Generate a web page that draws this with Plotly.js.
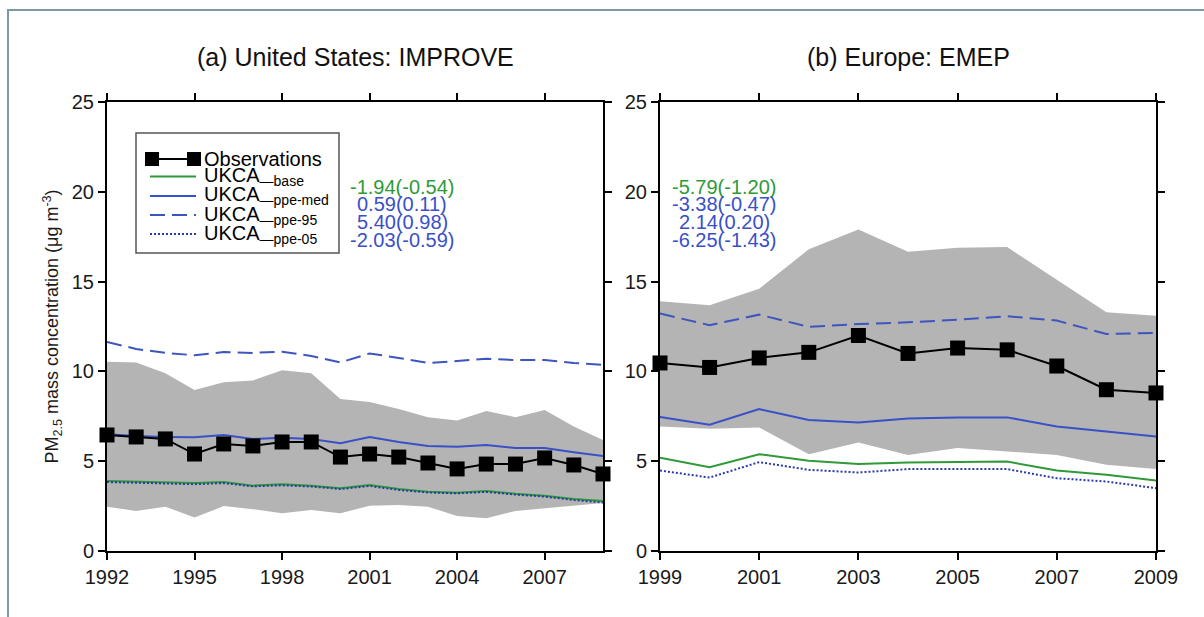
<!DOCTYPE html>
<html>
<head>
<meta charset="utf-8">
<script src="https://cdn.plot.ly/plotly-3.0.1.min.js"></script>
<style>
html,body{margin:0;padding:0;background:#fff;}
#wrap{position:relative;width:1204px;height:617px;overflow:hidden;}
#chart{position:absolute;left:0;top:0;width:1204px;height:617px;}
#frame{position:absolute;left:7px;top:9px;width:1300px;height:700px;border-top:2px solid #7d98a7;border-left:2px solid #7d98a7;pointer-events:none;}
</style>
</head>
<body>
<div id="wrap"><div id="chart"></div><div id="frame"></div></div>
<script>
// ---- United States: IMPROVE ----
var yearsUS = [1992,1993,1994,1995,1996,1997,1998,1999,2000,2001,2002,2003,2004,2005,2006,2007,2008,2009];
var obsUS    = [6.46,6.35,6.24,5.40,5.96,5.85,6.07,6.07,5.23,5.40,5.23,4.90,4.57,4.84,4.84,5.18,4.79,4.29];
var medUS    = [6.50,6.40,6.35,6.33,6.46,6.24,6.30,6.24,6.00,6.35,6.07,5.85,5.80,5.90,5.73,5.73,5.50,5.29];
var p95US    = [11.64,11.25,11.03,10.90,11.08,11.03,11.10,10.86,10.50,11.00,10.75,10.47,10.58,10.70,10.63,10.63,10.47,10.36];
var baseUS   = [3.90,3.86,3.84,3.78,3.84,3.64,3.71,3.64,3.50,3.67,3.45,3.30,3.25,3.34,3.19,3.08,2.90,2.78];
var p05US    = [3.84,3.80,3.78,3.72,3.78,3.60,3.66,3.59,3.45,3.62,3.40,3.26,3.21,3.29,3.14,3.03,2.84,2.70];
var bandHiUS = [10.54,10.50,9.90,8.96,9.40,9.50,10.07,9.90,8.46,8.30,7.90,7.45,7.26,7.80,7.45,7.85,6.93,6.18];
var bandLoUS = [2.47,2.23,2.47,1.86,2.50,2.33,2.10,2.28,2.10,2.52,2.56,2.47,1.95,1.83,2.23,2.38,2.56,2.67];

// ---- Europe: EMEP ----
var yearsEU = [1999,2000,2001,2002,2003,2004,2005,2006,2007,2008,2009];
var obsEU    = [10.47,10.22,10.75,11.06,12.00,11.00,11.30,11.20,10.30,8.98,8.80];
var medEU    = [7.46,7.03,7.90,7.30,7.16,7.38,7.44,7.44,6.93,6.65,6.37];
var p95EU    = [13.22,12.57,13.16,12.48,12.64,12.73,12.88,13.07,12.83,12.08,12.14];
var baseEU   = [5.20,4.67,5.39,5.02,4.85,4.93,4.96,4.98,4.48,4.24,3.92];
var p05EU    = [4.48,4.09,4.95,4.52,4.37,4.56,4.56,4.56,4.05,3.87,3.50];
var bandHiEU = [13.90,13.68,14.60,16.80,17.90,16.66,16.88,16.92,15.10,13.30,13.10];
var bandLoEU = [6.93,6.80,6.88,5.39,6.04,5.35,5.73,5.54,5.35,4.80,4.57];

// ---- text ----
var panelTitles = ["(a) United States: IMPROVE", "(b) Europe: EMEP"];
var statsUS = ["-1.94(-0.54)","0.59(0.11)","5.40(0.98)","-2.03(-0.59)"];
var statsEU = ["-5.79(-1.20)","-3.38(-0.47)","2.14(0.20)","-6.25(-1.43)"];
var legendLabels = ["Observations","UKCA<sub>—base</sub>","UKCA<sub>—ppe-med</sub>","UKCA<sub>—ppe-95</sub>","UKCA<sub>—ppe-05</sub>"];
var yTitle = "PM<sub>2.5</sub> mass concentration (μg m<sup>-3</sup>)";
var xTicksUS = [1992,1995,1998,2001,2004,2007];
var xTicksEU = [1999,2001,2003,2005,2007,2009];
var yTicks = [0,5,10,15,20,25];

var GREEN = "#2e9a38", BLUE = "#3a50c8", BLUE95 = "#3d55bf", BLUE05 = "#2a3aa8", GRAY = "#b4b4b4";
var FONT = "Liberation Sans, Arial, sans-serif";

function panel(xs, lo, hi, base, p05, med, p95, obs, xa, ya) {
  return [
    {x: xs, y: lo, xaxis: xa, yaxis: ya, mode: "lines", line: {width: 0, color: GRAY}, hoverinfo: "skip", showlegend: false},
    {x: xs, y: hi, xaxis: xa, yaxis: ya, mode: "lines", line: {width: 0, color: GRAY}, fill: "tonexty", fillcolor: GRAY, hoverinfo: "skip", showlegend: false},
    {x: xs, y: p95, xaxis: xa, yaxis: ya, mode: "lines", line: {color: BLUE95, width: 2, dash: "15px,7px"}, showlegend: false},
    {x: xs, y: base, xaxis: xa, yaxis: ya, mode: "lines", line: {color: GREEN, width: 2}, showlegend: false},
    {x: xs, y: p05, xaxis: xa, yaxis: ya, mode: "lines", line: {color: BLUE05, width: 2, dash: "2px,2px"}, showlegend: false},
    {x: xs, y: med, xaxis: xa, yaxis: ya, mode: "lines", line: {color: BLUE, width: 2}, showlegend: false},
    {x: xs, y: obs, xaxis: xa, yaxis: ya, mode: "lines+markers", line: {color: "#000", width: 2},
     marker: {symbol: "square", size: 15, color: "#000"}, cliponaxis: false, showlegend: false}
  ];
}

var data = panel(yearsUS, bandLoUS, bandHiUS, baseUS, p05US, medUS, p95US, obsUS, "x", "y")
  .concat(panel(yearsEU, bandLoEU, bandHiEU, baseEU, p05EU, medEU, p95EU, obsEU, "x2", "y2"));

var axCommon = {
  showline: true, linecolor: "#000", linewidth: 2, mirror: "allticks",
  ticks: "outside", ticklen: 7, tickwidth: 2, tickcolor: "#000",
  showgrid: false, zeroline: false, fixedrange: true,
  tickfont: {family: FONT, size: 20, color: "#1a1a1a"}
};

function ax(extra) { return Object.assign({}, axCommon, extra); }

// pixel helpers for left panel (domain coords)
var L = 107, R = 603, T = 102, B = 551;
function fx(px) { return (px - L) / (R - L); }
function fy(py) { return (B - py) / (B - T); }
function fxR(px) { return (px - 660) / (1156 - 660); }

var shapes = [], annotations = [];

// legend box
shapes.push({type: "rect", xref: "x domain", yref: "y domain", x0: fx(136), x1: fx(339), y0: fy(253), y1: fy(133),
  line: {color: "#555", width: 1.5}, fillcolor: "rgba(255,255,255,0)", layer: "above"});
var rowsY = [159, 176.5, 196, 215, 234];
var rowStyles = [
  {color: "#000", dash: "solid"},
  {color: GREEN, dash: "solid"},
  {color: BLUE, dash: "solid"},
  {color: BLUE95, dash: "15px,7px"},
  {color: BLUE05, dash: "2px,2px"}
];
for (var i = 0; i < legendLabels.length; i++) {
  shapes.push({type: "line", xref: "x domain", yref: "y domain", x0: fx(150), x1: fx(196), y0: fy(rowsY[i]), y1: fy(rowsY[i]),
    line: {color: rowStyles[i].color, width: 2, dash: rowStyles[i].dash}, layer: "above"});
  annotations.push({xref: "x domain", yref: "y domain", x: fx(202), y: fy(rowsY[i]), xanchor: "left", yanchor: "middle",
    text: legendLabels[i], showarrow: false, font: {family: FONT, size: 20, color: "#000"}});
}
[152, 194].forEach(function (px) {
  shapes.push({type: "rect", xref: "x domain", yref: "y domain", x0: fx(px - 7), x1: fx(px + 7), y0: fy(rowsY[0] + 7), y1: fy(rowsY[0] - 7),
    fillcolor: "#000", line: {width: 0}, layer: "above"});
});

// stats text
var statY = [187, 204, 222, 240];
var statCol = [GREEN, BLUE, BLUE, BLUE];
for (var j = 0; j < 4; j++) {
  annotations.push({xref: "x domain", yref: "y domain", x: fx(402), y: fy(statY[j]), xanchor: "center", yanchor: "middle",
    text: statsUS[j], showarrow: false, font: {family: FONT, size: 20, color: statCol[j]}});
  annotations.push({xref: "x2 domain", yref: "y2 domain", x: fxR(724), y: fy(statY[j]), xanchor: "center", yanchor: "middle",
    text: statsEU[j], showarrow: false, font: {family: FONT, size: 20, color: statCol[j]}});
}

// panel titles
annotations.push({xref: "x domain", yref: "paper", x: 0.5, y: fy(57), xanchor: "center", yanchor: "middle",
  text: panelTitles[0], showarrow: false, font: {family: FONT, size: 25, color: "#111"}});
annotations.push({xref: "x2 domain", yref: "paper", x: 0.5, y: fy(57), xanchor: "center", yanchor: "middle",
  text: panelTitles[1], showarrow: false, font: {family: FONT, size: 25, color: "#111"}});

var layout = {
  width: 1204, height: 617,
  margin: {l: L, r: 1204 - 1156, t: T, b: 617 - B, pad: 0},
  paper_bgcolor: "#fff", plot_bgcolor: "#fff",
  showlegend: false,
  xaxis: ax({domain: [0, (R - L) / (1156 - L)], range: [1992, 2009], tickvals: xTicksUS, ticktext: xTicksUS.map(String)}),
  yaxis: ax({range: [0, 25], tickvals: yTicks, ticktext: yTicks.map(String),
    title: {text: yTitle, standoff: 8, font: {family: FONT, size: 18, color: "#1a1a1a"}}}),
  xaxis2: ax({domain: [(660 - L) / (1156 - L), 1], range: [1999, 2009], tickvals: xTicksEU, ticktext: xTicksEU.map(String), anchor: "y2"}),
  yaxis2: ax({range: [0, 25], tickvals: yTicks, ticktext: yTicks.map(String), anchor: "x2"}),
  shapes: shapes,
  annotations: annotations
};

Plotly.newPlot("chart", data, layout, {staticPlot: true, displayModeBar: false});
</script>
</body>
</html>
